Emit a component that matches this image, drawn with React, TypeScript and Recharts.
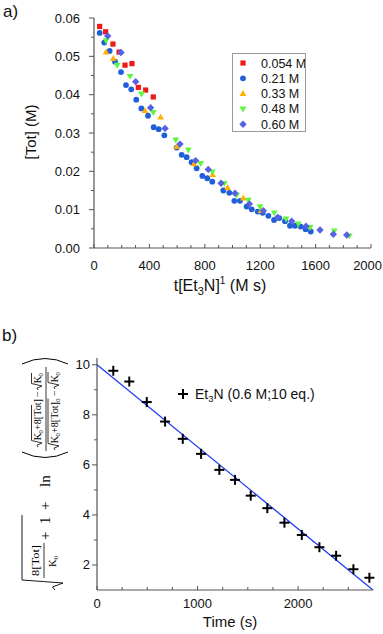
import React from 'react';
import { ScatterChart, ComposedChart, Scatter, Line, XAxis, YAxis, Legend } from 'recharts';

const SANS = '"Liberation Sans", Arial, sans-serif';
const SERIF = '"Liberation Serif", "Times New Roman", serif';
const AXIS = '#555';
const INK = '#111';

// ---- panel a) : t[Et3N] (M s) vs [Tot] (M), one pair of arrays per concentration
const t054 = [41, 84, 137, 181, 224, 274, 320, 373, 428];
const c054 = [0.0578, 0.0564, 0.0532, 0.0511, 0.0477, 0.0481, 0.0419, 0.0412, 0.0394];

const t021 = [41, 74, 113, 152, 195, 231, 269, 305, 342, 390, 431, 467, 508, 597, 633, 669, 705, 741, 782, 818,
  854, 934, 977, 1013, 1054, 1102, 1139, 1182, 1218, 1259, 1300, 1338, 1379, 1415, 1451, 1492, 1528, 1565];
const c021 = [0.0561, 0.0536, 0.0514, 0.0486, 0.0459, 0.0425, 0.0414, 0.0387, 0.0364, 0.0345, 0.0315, 0.031,
  0.0294, 0.0262, 0.0243, 0.0237, 0.0224, 0.0208, 0.0188, 0.0182, 0.0173, 0.015, 0.0144, 0.0123, 0.0123, 0.0108,
  0.0101, 0.0095, 0.0092, 0.0084, 0.0073, 0.0078, 0.007, 0.0058, 0.0058, 0.0056, 0.0049, 0.0043];

const t033 = [87, 139, 368, 481, 597, 722, 857, 965, 1078, 1206];
const c033 = [0.0511, 0.0494, 0.0358, 0.0341, 0.0264, 0.0219, 0.0191, 0.0157, 0.013, 0.0097];

const t048 = [87, 168, 260, 344, 428, 590, 681, 770, 854, 941, 1030, 1114, 1199, 1302, 1386, 1475, 1560, 1735, 1843];
const c048 = [0.0541, 0.0477, 0.0448, 0.0402, 0.0354, 0.0282, 0.0256, 0.0221, 0.0199, 0.0169, 0.0138, 0.0125,
  0.0108, 0.0092, 0.0076, 0.0063, 0.0054, 0.0045, 0.0032];

const t060 = [99, 195, 301, 409, 513, 621, 734, 825, 917, 1018, 1122, 1223, 1326, 1427, 1531, 1632, 1728, 1825];
const c060 = [0.0553, 0.051, 0.0434, 0.0366, 0.0312, 0.0271, 0.0228, 0.0205, 0.0169, 0.0143, 0.0115, 0.0097,
  0.008, 0.007, 0.0057, 0.0047, 0.0036, 0.0034];

const topXTicks = [0, 100, 200, 300, 400, 500, 600, 700, 800, 900, 1000, 1100, 1200, 1300, 1400, 1500, 1600, 1700, 1800, 1900, 2000];
const topXMajor = [0, 400, 800, 1200, 1600, 2000];
const topYTicks = [0, 0.005, 0.01, 0.015, 0.02, 0.025, 0.03, 0.035, 0.04, 0.045, 0.05, 0.055, 0.06];
const topYMajor = [0, 0.01, 0.02, 0.03, 0.04, 0.05, 0.06];

// ---- panel b) : linearised plot vs time
const timeS = [162, 321, 495, 677, 853, 1035, 1217, 1373, 1529, 1694, 1864, 2037, 2212, 2378, 2550, 2709];
const linY = [9.76, 9.33, 8.51, 7.73, 7.04, 6.44, 5.8, 5.4, 4.77, 4.27, 3.69, 3.2, 2.71, 2.37, 1.83, 1.49];
const fitTime = [0, 2745];
const fitY = [10.0, 1.0];

const botXTicks = [0, 250, 500, 750, 1000, 1250, 1500, 1750, 2000, 2250, 2500];
const botXMajor = [0, 1000, 2000];
const botYTicks = [2, 3, 4, 5, 6, 7, 8, 9, 10];
const botYMajor = [2, 4, 6, 8, 10];

const zip = (xs: number[], ys: number[]) => xs.map((x, i) => ({ x, y: ys[i] }));

// marker shapes
const mark = (kind: string, cx: number, cy: number, color: string) => {
  switch (kind) {
    case 'square':
      return <rect x={cx - 2.6} y={cy - 2.6} width={5.2} height={5.2} fill={color} />;
    case 'circle':
      return <circle cx={cx} cy={cy} r={2.9} fill={color} />;
    case 'up':
      return <polygon points={`${cx},${cy - 3.6} ${cx + 3.4},${cy + 2.3} ${cx - 3.4},${cy + 2.3}`} fill={color} />;
    case 'down':
      return <polygon points={`${cx - 3.4},${cy - 2.3} ${cx + 3.4},${cy - 2.3} ${cx},${cy + 3.6}`} fill={color} />;
    default:
      return <polygon points={`${cx},${cy - 3.7} ${cx + 3.7},${cy} ${cx},${cy + 3.7} ${cx - 3.7},${cy}`} fill={color} />;
  }
};

const SERIES = [
  { name: '0.054 M', data: zip(t054, c054), color: '#f01818', kind: 'square' },
  { name: '0.21 M', data: zip(t021, c021), color: '#1f5fd8', kind: 'circle' },
  { name: '0.33 M', data: zip(t033, c033), color: '#ffb000', kind: 'up' },
  { name: '0.48 M', data: zip(t048, c048), color: '#5ef53c', kind: 'down' },
  { name: '0.60 M', data: zip(t060, c060), color: '#5563e2', kind: 'diamond' },
];

const isIn = (list: number[], v: number) => list.some((m) => Math.abs(m - v) < 1e-9);

const xTick = (majors: number[], gap: number) => (props: any) => {
  const { x, y, payload } = props;
  const major = isIn(majors, payload.value);
  const label = String(payload.value);
  // keep the last label inside the page
  const half = label.length * 3.6;
  const lx = Math.min(x, 382 - half);
  return (
    <g>
      <line x1={x} x2={x} y1={y} y2={y - (major ? 4 : 3)} stroke={AXIS} strokeWidth={1} />
      {major && (
        <text x={lx} y={y + gap} textAnchor="middle" fontSize={13} fontFamily={SANS} fill={INK}>
          {label}
        </text>
      )}
    </g>
  );
};

const yTick = (majors: number[], gap: number, fmt: (v: number) => string) => (props: any) => {
  const { x, y, payload } = props;
  const major = isIn(majors, payload.value);
  return (
    <g>
      <line x1={x} x2={x - (major ? 5 : 3)} y1={y} y2={y} stroke={AXIS} strokeWidth={1} />
      {major && (
        <text x={x - gap} y={y + 4.5} textAnchor="end" fontSize={13} fontFamily={SANS} fill={INK}>
          {fmt(payload.value)}
        </text>
      )}
    </g>
  );
};

const Cross = (props: any) => {
  const { cx, cy } = props;
  return (
    <g stroke="#000" strokeWidth={2}>
      <line x1={cx - 5} x2={cx + 5} y1={cy} y2={cy} />
      <line x1={cx} x2={cx} y1={cy - 5} y2={cy + 5} />
    </g>
  );
};

const TopLegend = () => (
  <div style={{ width: 72, height: 77, border: '1px solid #9a9a9a', background: '#fff', boxSizing: 'content-box' }}>
    <svg width={72} height={77}>
      {SERIES.map((s, i) => (
        <g key={s.name}>
          {mark(s.kind, 10, 9 + i * 15.3, s.color)}
          <text x={28} y={13.5 + i * 15.3} fontSize={12.5} fontFamily={SANS} fill={INK}>{s.name}</text>
        </g>
      ))}
    </svg>
  </div>
);

const BotLegend = () => (
  <svg width={170} height={20}>
    <Cross cx={7} cy={9} />
    <text x={19} y={14} fontSize={14} fontFamily={SANS} fill={INK}>
      Et<tspan fontSize={9.5} dy={3}>3</tspan>
      <tspan dy={-3}>N (0.6 M;10 eq.)</tspan>
    </text>
  </svg>
);

// radical sign drawn in the upright (unrotated) frame: x along the text, y downwards
const Rad = ({ x, b, w, h }: { x: number; b: number; w: number; h: number }) => (
  <path
    d={`M${x},${b - 3} L${x + 1.8},${b - 4} L${x + 4},${b + 1} L${x + 6.5},${b - h} H${x + 6.5 + w}`}
    fill="none"
    stroke="#000"
    strokeWidth={0.8}
  />
);

const Sub0 = ({ x, b, size = 7 }: { x: number; b: number; size?: number }) => (
  <text x={x} y={b + 2.2} fontSize={size} fontFamily={SERIF}>0</text>
);

// y-axis title of panel b), built upright then rotated
const MathLabel = () => {
  const f = 10.5;
  const nb = -3; // numerator baseline
  const db = 14; // denominator baseline
  return (
    <g transform="translate(44,590) rotate(-90)" fill="#000">
      {/* sqrt(8[Tot]/K0) */}
      <path d="M0,11 L3,8.5 L7,19 L10,-22 H75" fill="none" stroke="#000" strokeWidth={0.9} />
      <text x={14} y={-5} fontSize={10.5} fontFamily={SERIF} textLength={31} lengthAdjust="spacingAndGlyphs">8[Tot]</text>
      <line x1={12} x2={47} y1={0} y2={0} stroke="#000" strokeWidth={0.8} />
      <text x={23} y={12} fontSize={10.5} fontFamily={SERIF}>K</text>
      <Sub0 x={30.5} b={12} />
      {/* + 1 + ln */}
      <text x={50} y={6} fontSize={15} fontFamily={SERIF}>+</text>
      <text x={66} y={6} fontSize={15} fontFamily={SERIF}>1</text>
      <text x={80} y={6} fontSize={15} fontFamily={SERIF}>+</text>
      <text x={103} y={6} fontSize={15} fontFamily={SERIF}>ln</text>
      {/* big parentheses */}
      <path d="M138,-22 Q127,1 138,24" fill="none" stroke="#000" strokeWidth={1} />
      <path d="M226,-22 Q237,1 226,24" fill="none" stroke="#000" strokeWidth={1} />
      {/* numerator */}
      <Rad x={143} b={nb} w={35.5} h={9.5} />
      <text x={149.5} y={nb} fontSize={f} fontFamily={SERIF}>K</text>
      <Sub0 x={156.5} b={nb} size={6.5} />
      <text x={160} y={nb} fontSize={f} fontFamily={SERIF} textLength={31} lengthAdjust="spacingAndGlyphs">+8[Tot]</text>
      <text x={193} y={nb} fontSize={f} fontFamily={SERIF}>−</text>
      <Rad x={200} b={nb} w={10.5} h={9.5} />
      <text x={206.5} y={nb} fontSize={f} fontFamily={SERIF}>K</text>
      <Sub0 x={213.5} b={nb} size={6.5} />
      {/* fraction bar */}
      <line x1={139} x2={223} y1={2} y2={2} stroke="#000" strokeWidth={0.8} />
      {/* denominator */}
      <Rad x={140} b={db} w={45} h={10} />
      <text x={146.5} y={db} fontSize={f} fontFamily={SERIF}>K</text>
      <Sub0 x={153.5} b={db} size={6.5} />
      <text x={157} y={db} fontSize={f} fontFamily={SERIF} textLength={31} lengthAdjust="spacingAndGlyphs">+8[Tot]</text>
      <Sub0 x={188.3} b={db} size={6.5} />
      <text x={194} y={db} fontSize={f} fontFamily={SERIF}>−</text>
      <Rad x={201} b={db} w={10.5} h={10} />
      <text x={207.5} y={db} fontSize={f} fontFamily={SERIF}>K</text>
      <Sub0 x={214.5} b={db} size={6.5} />
    </g>
  );
};

export default function App() {
  return (
    <div style={{ position: 'absolute', left: 0, top: 0, width: 383, height: 634, background: '#fff', fontFamily: SANS }}>
      {/* a) */}
      <div style={{ position: 'absolute', left: 0, top: 0 }}>
        <ScatterChart width={383} height={300} margin={{ top: 18, right: 12, bottom: 0, left: 0 }}>
          <XAxis
            type="number"
            dataKey="x"
            domain={[0, 2000]}
            ticks={topXTicks}
            interval={0}
            height={52}
            tickSize={0}
            tickMargin={0}
            tickLine={false}
            axisLine={{ stroke: AXIS, strokeWidth: 1.2 }}
            tick={xTick(topXMajor, 22)}
          />
          <YAxis
            type="number"
            dataKey="y"
            domain={[0, 0.06]}
            ticks={topYTicks}
            interval={0}
            width={94}
            tickSize={0}
            tickMargin={0}
            tickLine={false}
            axisLine={{ stroke: AXIS, strokeWidth: 1.2 }}
            tick={yTick(topYMajor, 14, (v) => v.toFixed(2))}
          />
          {SERIES.map((s) => (
            <Scatter
              key={s.name}
              name={s.name}
              data={s.data}
              fill={s.color}
              isAnimationActive={false}
              shape={(p: any) => mark(s.kind, p.cx, p.cy, s.color)}
            />
          ))}
          <Legend
            layout="vertical"
            align="center"
            verticalAlign="middle"
            wrapperStyle={{ left: 232, top: 53, width: 74, height: 79 }}
            content={() => <TopLegend />}
          />
        </ScatterChart>
      </div>

      {/* b) */}
      <div style={{ position: 'absolute', left: 0, top: 330 }}>
        <ComposedChart width={383} height={304} margin={{ top: 28, right: 10, bottom: 0, left: 0 }}>
          <XAxis
            type="number"
            dataKey="x"
            domain={[0, 2745]}
            ticks={botXTicks}
            interval={0}
            height={44}
            tickSize={0}
            tickMargin={0}
            tickLine={false}
            axisLine={{ stroke: AXIS, strokeWidth: 1.2 }}
            tick={xTick(botXMajor, 18)}
          />
          <YAxis
            type="number"
            dataKey="y"
            domain={[1, 10.27]}
            ticks={botYTicks}
            interval={0}
            width={97}
            tickSize={0}
            tickMargin={0}
            tickLine={false}
            axisLine={{ stroke: AXIS, strokeWidth: 1.2 }}
            tick={yTick(botYMajor, 7, (v) => String(v))}
          />
          <Line
            data={zip(fitTime, fitY)}
            dataKey="y"
            stroke="#1e3cf5"
            strokeWidth={1.3}
            dot={false}
            isAnimationActive={false}
            legendType="none"
          />
          <Scatter data={zip(timeS, linY)} dataKey="y" shape={Cross} isAnimationActive={false} />
          <Legend
            layout="vertical"
            align="center"
            verticalAlign="middle"
            wrapperStyle={{ left: 176, top: 55, width: 170, height: 20 }}
            content={() => <BotLegend />}
          />
        </ComposedChart>
      </div>

      {/* titles and panel letters */}
      <svg width={383} height={634} style={{ position: 'absolute', left: 0, top: 0, pointerEvents: 'none' }}>
        <text x={3} y={17} fontSize={17} fontFamily={SANS} fill={INK}>a)</text>
        <text x={2} y={341} fontSize={17} fontFamily={SANS} fill={INK}>b)</text>
        <text transform="translate(36,132) rotate(-90)" textAnchor="middle" fontSize={15} fontFamily={SANS} fill={INK}>
          [Tot] (M)
        </text>
        <text x={220} y={291} textAnchor="middle" fontSize={16} fontFamily={SANS} fill={INK}>
          t[Et<tspan fontSize={11} dy={4}>3</tspan>
          <tspan dy={-4}>N]</tspan>
          <tspan fontSize={10} dy={-7}>1</tspan>
          <tspan dy={7}> (M s)</tspan>
        </text>
        <text x={230} y={627} textAnchor="middle" fontSize={15} fontFamily={SANS} fill={INK}>Time (s)</text>
        <MathLabel />
      </svg>
    </div>
  );
}
